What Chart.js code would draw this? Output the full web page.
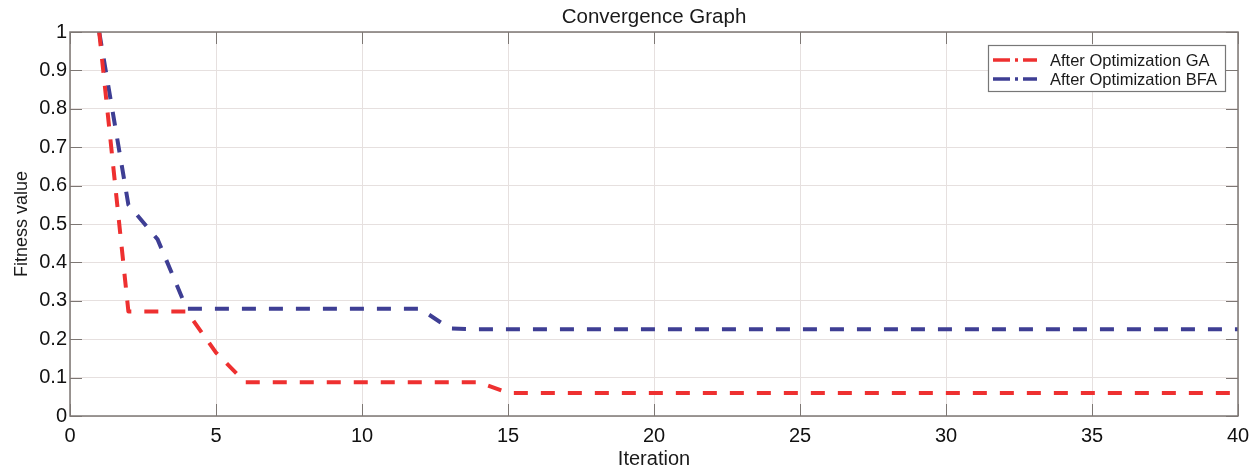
<!DOCTYPE html>
<html>
<head>
<meta charset="utf-8">
<script src="https://cdn.jsdelivr.net/npm/chart.js@4.4.1/dist/chart.umd.min.js"></script>
<style>
html,body{margin:0;padding:0;background:#fff;}
#wrap{width:1258px;height:471px;position:relative;}
</style>
</head>
<body>
<div id="wrap"><canvas id="c" width="1258" height="471"></canvas></div>
<script>
// ---- data ----
const iterations = [1,2,3,4,5,6,7,8,9,10,11,12,13,14,15,16,17,18,19,20,21,22,23,24,25,26,27,28,29,30,31,32,33,34,35,36,37,38,39,40];
const fitnessGA  = [1.0,0.272,0.272,0.272,0.165,0.088,0.088,0.088,0.088,0.088,0.088,0.088,0.088,0.088,0.060,0.060,0.060,0.060,0.060,0.060,0.060,0.060,0.060,0.060,0.060,0.060,0.060,0.060,0.060,0.060,0.060,0.060,0.060,0.060,0.060,0.060,0.060,0.060,0.060,0.060];
const fitnessBFA = [1.0,0.550,0.460,0.279,0.279,0.279,0.279,0.279,0.279,0.279,0.279,0.279,0.228,0.226,0.226,0.226,0.226,0.226,0.226,0.226,0.226,0.226,0.226,0.226,0.226,0.226,0.226,0.226,0.226,0.226,0.226,0.226,0.226,0.226,0.226,0.226,0.226,0.226,0.226,0.226];
const seriesNames = ['After Optimization GA','After Optimization BFA'];
const xTicks = [0,5,10,15,20,25,30,35,40];
const yTicks = [0,0.1,0.2,0.3,0.4,0.5,0.6,0.7,0.8,0.9,1];
const chartTitle = 'Convergence Graph';
const xTitle = 'Iteration';
const yTitle = 'Fitness value';

const RED = 'rgb(238,48,48)';
const BLUE = 'rgb(62,62,148)';
const AXIS = '#7d7774';
const FONT = '"Liberation Sans", Arial, sans-serif';

function pts(ys){ return iterations.map((x,i)=>({x:x,y:ys[i]})); }

const framePlugin = {
  id:'frame',
  afterDraw(chart){
    const ctx = chart.ctx, a = chart.chartArea;
    const xs = chart.scales.x, ys = chart.scales.y;
    ctx.save();
    ctx.strokeStyle = AXIS;
    ctx.lineWidth = 1.5;
    ctx.strokeRect(a.left, a.top, a.right-a.left, a.bottom-a.top);
    ctx.beginPath();
    xs.ticks.forEach(t=>{
      const px = Math.round(xs.getPixelForValue(t.value))+0.5;
      ctx.moveTo(px,a.bottom); ctx.lineTo(px,a.bottom-12);
      ctx.moveTo(px,a.top); ctx.lineTo(px,a.top+12);
    });
    ys.ticks.forEach(t=>{
      const py = Math.round(ys.getPixelForValue(t.value))+0.5;
      ctx.moveTo(a.left,py); ctx.lineTo(a.left+12,py);
      ctx.moveTo(a.right,py); ctx.lineTo(a.right-12,py);
    });
    ctx.lineWidth = 1;
    ctx.stroke();
    // title
    ctx.fillStyle = '#1a1a1a';
    ctx.font = '20.5px ' + FONT;
    ctx.textAlign = 'center';
    ctx.textBaseline = 'middle';
    ctx.fillText(chartTitle, (a.left+a.right)/2, 17);
    // legend
    const lx = 988, ly = 45, lw = 237, lh = 46;
    ctx.fillStyle = '#fff';
    ctx.fillRect(lx,ly,lw,lh);
    ctx.strokeStyle = '#777';
    ctx.lineWidth = 1.2;
    ctx.strokeRect(lx+0.5,ly+0.5,lw,lh);
    chart.data.datasets.forEach((ds,i)=>{
      const cy = 60 + i*19;
      ctx.strokeStyle = ds.borderColor;
      ctx.lineWidth = 3.5;
      ctx.setLineDash([17,5,3,5,14]);
      ctx.beginPath(); ctx.moveTo(993,cy); ctx.lineTo(1047,cy); ctx.stroke();
      ctx.setLineDash([]);
      ctx.fillStyle = '#1a1a1a';
      ctx.font = '16.5px ' + FONT;
      ctx.textAlign = 'left';
      ctx.textBaseline = 'middle';
      ctx.fillText(ds.label, 1050, cy+1);
    });
    ctx.restore();
  }
};

new Chart(document.getElementById('c'), {
  type:'line',
  data:{
    datasets:[
      {label:seriesNames[0], data:pts(fitnessGA), borderColor:RED, backgroundColor:RED, borderWidth:4, borderDash:[14,13], borderCapStyle:'butt', borderJoinStyle:'round', pointRadius:0, tension:0, fill:false},
      {label:seriesNames[1], data:pts(fitnessBFA), borderColor:BLUE, backgroundColor:BLUE, borderWidth:4, borderDash:[14,13], borderCapStyle:'butt', borderJoinStyle:'round', pointRadius:0, tension:0, fill:false}
    ]
  },
  options:{
    responsive:false,
    animation:false,
    layout:{padding:{left:0,right:20,top:32,bottom:0}},
    plugins:{legend:{display:false}, title:{display:false}, tooltip:{enabled:false}},
    scales:{
      x:{
        type:'linear', min:0, max:40,
        afterBuildTicks(s){ s.ticks = xTicks.map(v=>({value:v})); },
        afterFit(s){ s.height = 55; },
        grid:{color:'#e6e0df', lineWidth:1, drawTicks:false},
        border:{display:false},
        ticks:{color:'#111', font:{family:FONT,size:20}, padding:8, maxRotation:0, autoSkip:false,
          callback:(v)=>String(v)},
        title:{display:true, text:xTitle, color:'#1a1a1a', font:{family:FONT,size:20}, padding:{top:0,bottom:0}}
      },
      y:{
        type:'linear', min:0, max:1,
        afterBuildTicks(s){ s.ticks = yTicks.map(v=>({value:v})); },
        afterFit(s){ s.width = 70; },
        grid:{color:'#e6e0df', lineWidth:1, drawTicks:false},
        border:{display:false},
        ticks:{color:'#111', font:{family:FONT,size:20}, padding:3, autoSkip:false,
          callback:(v)=>String(Math.round(v*10)/10)},
        title:{display:true, text:yTitle, color:'#1a1a1a', font:{family:FONT,size:18}, padding:{top:11,bottom:0}}
      }
    }
  },
  plugins:[framePlugin]
});
</script>
</body>
</html>
